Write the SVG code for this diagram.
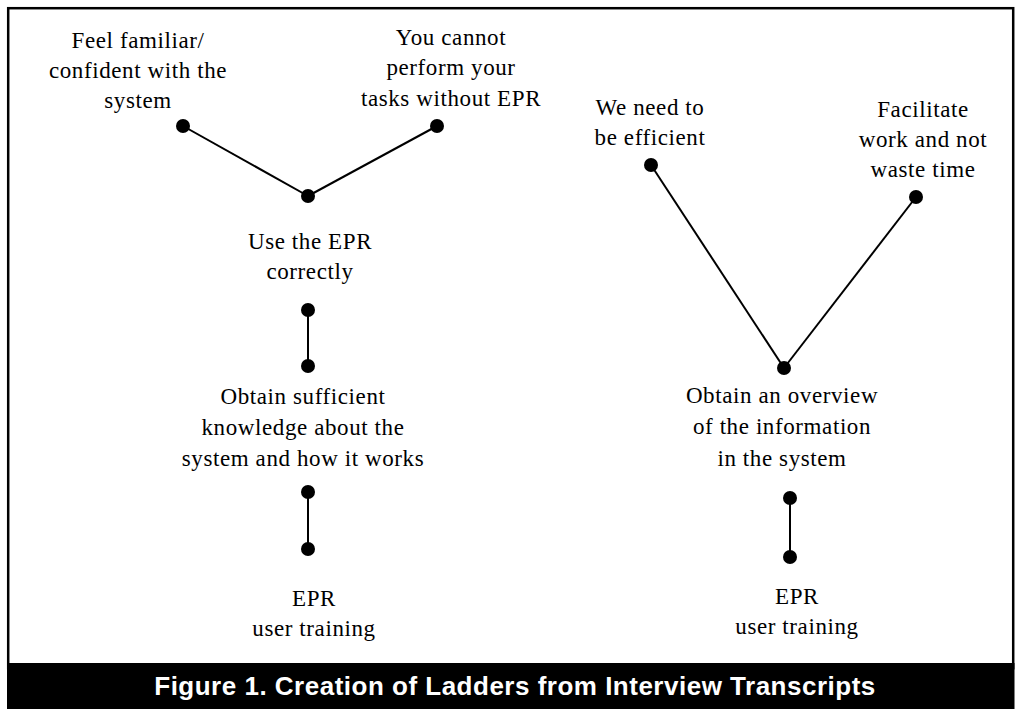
<svg xmlns="http://www.w3.org/2000/svg" width="1021" height="710" viewBox="0 0 1021 710">
  <style>
    .lbl { font-family: "Liberation Serif", "Times New Roman", serif; font-size: 23px; fill: #000; text-anchor: middle; letter-spacing: 0.6px; }
    .cap { font-family: "Liberation Sans", Arial, sans-serif; font-size: 26px; font-weight: bold; fill: #fff; text-anchor: middle; letter-spacing: 0.5px; }
    .dot { fill: #000; }
    .link { stroke: #000; stroke-width: 2; fill: none; }
  </style>

  <rect x="0" y="0" width="1021" height="710" fill="#fff"/>
  <!-- outer frame and caption bar -->
  <rect x="8.2" y="8.2" width="1005" height="660" fill="none" stroke="#000" stroke-width="2.5"/>
  <rect x="7" y="663" width="1007.5" height="46" fill="#000"/>
  <text class="cap" x="515" y="695">Figure 1. Creation of Ladders from Interview Transcripts</text>

  <!-- connectors -->
  <g id="connectors">
    <line class="link" x1="183" y1="126" x2="308" y2="196"/>
    <line class="link" x1="437" y1="126" x2="308" y2="196"/>
    <line class="link" x1="308" y1="310" x2="308" y2="366"/>
    <line class="link" x1="308" y1="492" x2="308" y2="549"/>
    <line class="link" x1="651" y1="165" x2="784" y2="368"/>
    <line class="link" x1="916" y1="197" x2="784" y2="368"/>
    <line class="link" x1="790" y1="498" x2="790" y2="557"/>
  </g>

  <!-- left ladder -->
  <g id="familiar">
    <text class="lbl" x="138" y="48">Feel familiar/</text>
    <text class="lbl" x="138" y="78">confident with the</text>
    <text class="lbl" x="138" y="108">system</text>
    <circle class="dot" cx="183" cy="126" r="7"/>
  </g>
  <g id="cannot-perform">
    <text class="lbl" x="451" y="45">You cannot</text>
    <text class="lbl" x="451" y="75">perform your</text>
    <text class="lbl" x="451" y="106">tasks without EPR</text>
    <circle class="dot" cx="437" cy="126" r="7"/>
  </g>
  <g id="use-correctly">
    <circle class="dot" cx="308" cy="196" r="7"/>
    <text class="lbl" x="310" y="249">Use the EPR</text>
    <text class="lbl" x="310" y="279">correctly</text>
    <circle class="dot" cx="308" cy="310" r="7"/>
  </g>
  <g id="sufficient-knowledge">
    <circle class="dot" cx="308" cy="366" r="7"/>
    <text class="lbl" x="303" y="404">Obtain sufficient</text>
    <text class="lbl" x="303" y="435">knowledge about the</text>
    <text class="lbl" x="303" y="466">system and how it works</text>
    <circle class="dot" cx="308" cy="492" r="7"/>
  </g>
  <g id="training-left">
    <circle class="dot" cx="308" cy="549" r="7"/>
    <text class="lbl" x="314" y="606">EPR</text>
    <text class="lbl" x="314" y="636">user training</text>
  </g>

  <!-- right ladder -->
  <g id="efficient">
    <text class="lbl" x="650" y="115">We need to</text>
    <text class="lbl" x="650" y="145">be efficient</text>
    <circle class="dot" cx="651" cy="165" r="7"/>
  </g>
  <g id="facilitate">
    <text class="lbl" x="923" y="117">Facilitate</text>
    <text class="lbl" x="923" y="147">work and not</text>
    <text class="lbl" x="923" y="177">waste time</text>
    <circle class="dot" cx="916" cy="197" r="7"/>
  </g>
  <g id="overview">
    <circle class="dot" cx="784" cy="368" r="7"/>
    <text class="lbl" x="782" y="403">Obtain an overview</text>
    <text class="lbl" x="782" y="434">of the information</text>
    <text class="lbl" x="782" y="466">in the system</text>
    <circle class="dot" cx="790" cy="498" r="7"/>
  </g>
  <g id="training-right">
    <circle class="dot" cx="790" cy="557" r="7"/>
    <text class="lbl" x="797" y="604">EPR</text>
    <text class="lbl" x="797" y="634">user training</text>
  </g>
</svg>
